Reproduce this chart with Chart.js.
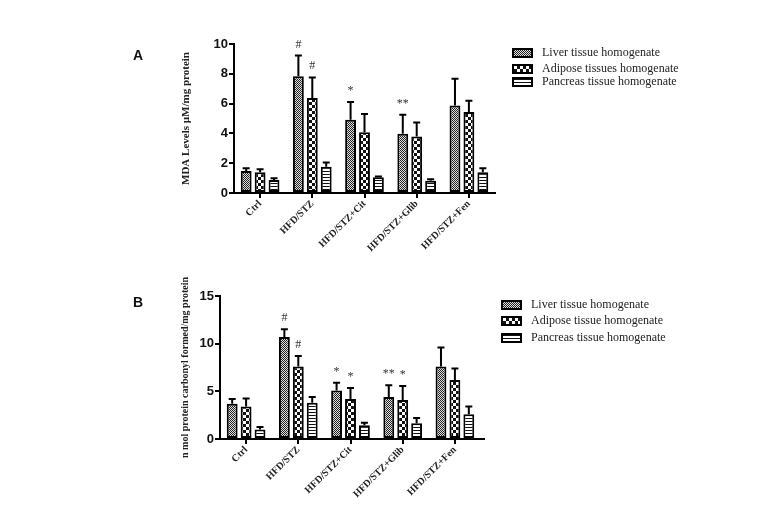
<!DOCTYPE html>
<html>
<head>
<meta charset="utf-8">
<script src="https://cdn.jsdelivr.net/npm/chart.js@4.4.1/dist/chart.umd.min.js"></script>
<style>
  body { margin: 0; background: #fff; }
  #wrap { position: relative; width: 784px; height: 519px; background: #fff; overflow: hidden; }
  #wrap canvas { position: absolute; left: 0; }
  .panel { position: absolute; font: bold 14px "Liberation Sans", Arial, sans-serif; color: #111; line-height: 1; }
  .leg { position: absolute; height: 16px; line-height: 16px; font: 12px "Liberation Serif", "Times New Roman", serif; color: #222; white-space: nowrap; }
  .sw { position: absolute; top: 3px; width: 17px; height: 6px; border: 2px solid #000; image-rendering: pixelated; }
</style>
</head>
<body>
<div id="wrap">
  <canvas id="chartA" width="784" height="262" style="top:0"></canvas>
  <canvas id="chartB" width="784" height="257" style="top:262px"></canvas>
  <div class="panel" style="left:133px;top:48px">A</div>
  <div class="panel" style="left:133px;top:295px">B</div>
  <div id="legA"></div>
  <div id="legB"></div>
</div>
<script>
// ===== DATA =====
const categories = ['Ctrl', 'HFD/STZ', 'HFD/STZ+Cit', 'HFD/STZ+Glib', 'HFD/STZ+Fen'];

// Panel A: MDA levels
const seriesA = ['Liver tissue homogenate', 'Adipose tissues homogenate', 'Pancreas tissue homogenate'];
const mdaLiver = [1.48, 7.83, 4.91, 3.97, 5.87];
const mdaLiverSem = [0.18, 1.39, 1.19, 1.28, 1.8];
const mdaAdipose = [1.39, 6.37, 4.08, 3.79, 5.43];
const mdaAdiposeSem = [0.2, 1.39, 1.23, 0.94, 0.76];
const mdaPancreas = [0.87, 1.77, 1.05, 0.83, 1.39];
const mdaPancreasSem = [0.12, 0.27, 0.05, 0.09, 0.27];
const mdaMarks = [['', '#', '*', '**', ''], ['', '#', '', '', ''], ['', '', '', '', '']];
const mdaTicks = { max: 10, step: 2 };

// Panel B: protein carbonyl
const seriesB = ['Liver tissue homogenate', 'Adipose tissue homogenate', 'Pancreas tissue homogenate'];
const pcLiver = [3.7, 10.7, 5.1, 4.4, 7.6];
const pcLiverSem = [0.5, 0.8, 0.8, 1.25, 2.0];
const pcAdipose = [3.4, 7.6, 4.2, 4.1, 6.2];
const pcAdiposeSem = [0.85, 1.1, 1.15, 1.45, 1.2];
const pcPancreas = [1.0, 3.8, 1.45, 1.65, 2.6];
const pcPancreasSem = [0.25, 0.6, 0.25, 0.55, 0.8];
const pcMarks = [['', '#', '*', '**', ''], ['', '#', '*', '*', ''], ['', '', '', '', '']];
const pcTicks = { max: 15, step: 5 };

// ===== PATTERNS =====
function makeTile(kind) {
  const c = document.createElement('canvas');
  const g = c.getContext('2d');
  if (kind === 'fine') {
    c.width = c.height = 2;
    g.fillStyle = '#e0e0e0'; g.fillRect(0, 0, 2, 2);
    g.fillStyle = '#222'; g.fillRect(0, 0, 1, 1); g.fillRect(1, 1, 1, 1);
  } else if (kind === 'check') {
    c.width = c.height = 6;
    g.fillStyle = '#111'; g.fillRect(0, 0, 6, 6);
    g.fillStyle = '#fff'; g.fillRect(0, 0, 3, 3); g.fillRect(3, 3, 3, 3);
  } else {
    c.width = 1; c.height = 3;
    g.fillStyle = '#fff'; g.fillRect(0, 0, 1, 3);
    g.fillStyle = '#111'; g.fillRect(0, 0, 1, 1);
  }
  return c;
}
const tiles = [makeTile('fine'), makeTile('check'), makeTile('stripe')];
const pctx = document.createElement('canvas').getContext('2d');
const patterns = tiles.map(t => pctx.createPattern(t, 'repeat'));

// ===== PLUGINS =====
const errorBars = {
  id: 'errorBars',
  afterDatasetsDraw(chart) {
    const { ctx } = chart;
    const y = chart.scales.y;
    ctx.save();
    ctx.strokeStyle = '#000';
    ctx.lineWidth = 2;
    chart.data.datasets.forEach((ds, i) => {
      const meta = chart.getDatasetMeta(i);
      meta.data.forEach((el, j) => {
        const top = y.getPixelForValue(ds.data[j] + ds.sem[j]);
        ctx.beginPath();
        ctx.moveTo(el.x, el.y);
        ctx.lineTo(el.x, top);
        ctx.moveTo(el.x - 3.5, top);
        ctx.lineTo(el.x + 3.5, top);
        ctx.stroke();
        const m = ds.marks[j];
        if (m) {
          ctx.fillStyle = '#333';
          ctx.font = '12px "Liberation Serif", serif';
          ctx.textAlign = 'center';
          ctx.textBaseline = 'alphabetic';
          ctx.fillText(m, el.x, top - 8);
        }
      });
    });
    ctx.restore();
  },
  afterDraw(chart, args, opts) {
    if (!opts.extend) return;
    const { ctx, chartArea } = chart;
    ctx.save();
    ctx.strokeStyle = '#000';
    ctx.lineWidth = 2;
    ctx.beginPath();
    ctx.moveTo(chartArea.right - 1, chartArea.bottom);
    ctx.lineTo(chartArea.right + opts.extend, chartArea.bottom);
    ctx.stroke();
    ctx.restore();
  }
};

function makeDatasets(names, vals, sems, marks) {
  return names.map((n, i) => ({
    label: n,
    data: vals[i],
    sem: sems[i],
    marks: marks[i],
    backgroundColor: patterns[i],
    borderColor: '#000',
    borderWidth: 2,
    borderSkipped: false,
    categoryPercentage: 0.8,
    barPercentage: 0.78
  }));
}

function makeChart(id, cfg) {
  return new Chart(document.getElementById(id), {
    type: 'bar',
    data: { labels: categories, datasets: cfg.datasets },
    options: {
      responsive: false,
      animation: false,
      layout: { padding: cfg.padding },
      plugins: {
        legend: { display: false },
        tooltip: { enabled: false },
        errorBars: { extend: cfg.extend || 0 }
      },
      scales: {
        x: {
          afterFit: s => { s.height = cfg.xHeight; },
          grid: { display: true, drawOnChartArea: false, offset: false, tickLength: 5, color: '#000', lineWidth: 2 },
          border: { display: true, color: '#000', width: 2 },
          ticks: {
            autoSkip: false, maxRotation: 45, minRotation: 45, padding: 0, color: '#222',
            font: { family: '"Liberation Serif", serif', size: 10, weight: 'bold' }
          }
        },
        y: {
          min: 0, max: cfg.ticks.max,
          afterFit: s => { s.width = cfg.yWidth; },
          grid: { display: true, drawOnChartArea: false, tickLength: 5, color: '#000', lineWidth: 2 },
          border: { display: true, color: '#000', width: 2 },
          ticks: {
            stepSize: cfg.ticks.step, padding: 1, color: '#111',
            font: { family: '"Liberation Sans", Arial, sans-serif', size: 13, weight: 'bold' }
          },
          title: {
            display: true, text: cfg.yTitle, color: '#222', padding: 0,
            font: { family: '"Liberation Serif", serif', size: cfg.titleSize, weight: 'bold' }
          }
        }
      }
    },
    plugins: [errorBars]
  });
}

makeChart('chartA', {
  datasets: makeDatasets(seriesA, [mdaLiver, mdaAdipose, mdaPancreas],
    [mdaLiverSem, mdaAdiposeSem, mdaPancreasSem], mdaMarks),
  ticks: mdaTicks,
  yTitle: 'MDA Levels µM/mg protein',
  titleSize: 11,
  padding: { left: 180, right: 289, top: 44, bottom: 0 },
  yWidth: 54,
  xHeight: 69
});

makeChart('chartB', {
  datasets: makeDatasets(seriesB, [pcLiver, pcAdipose, pcPancreas],
    [pcLiverSem, pcAdiposeSem, pcPancreasSem], pcMarks),
  ticks: pcTicks,
  yTitle: 'n mol protein carbonyl formed/mg protein',
  titleSize: 10,
  padding: { left: 179, right: 303, top: 34, bottom: 0 },
  yWidth: 41,
  xHeight: 80,
  extend: 4
});

// ===== LEGENDS =====
function renderLegend(elId, names, left, tops) {
  document.getElementById(elId).innerHTML = names.map((n, i) => `
    <div class="leg" style="left:${left}px;top:${tops[i] - 8}px">
      <span class="sw" style="left:0;background-image:url(${tiles[i].toDataURL()})"></span>
      <span style="position:absolute;left:30px">${n}</span>
    </div>`).join('');
}
renderLegend('legA', seriesA, 512, [53, 69, 82]);
renderLegend('legB', seriesB, 501, [305, 321, 338]);
</script>
</body>
</html>
